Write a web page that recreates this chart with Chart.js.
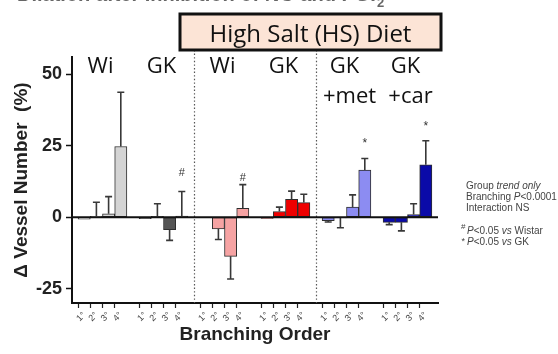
<!DOCTYPE html>
<html>
<head>
<meta charset="utf-8">
<script src="https://cdn.jsdelivr.net/npm/chart.js@4/dist/chart.umd.min.js"></script>
<style>
  html, body { margin: 0; padding: 0; background: #ffffff; }
  #wrap { width: 558px; height: 354px; position: relative; }
</style>
</head>
<body>
<div id="wrap"><canvas id="c" width="558" height="354"></canvas></div>
<script>
// Branching-order tick labels and the six animal groups
const orderLabels = ['1°', '2°', '3°', '4°'];
const groupNames = [['Wi'], ['GK'], ['Wi'], ['GK'], ['GK', '+met'], ['GK', '+car']];
const yTicks = [-25, 0, 25, 50];

// Change in vessel number (%) per branching order, mean and SEM
const wistar      = [-0.7, 0.3, 1.2, 24.7];
const wistarErr   = [0, 4.9, 6.0, 19.0];
const gk          = [-0.5, 0.3, -4.4, 0.4];
const gkErr       = [0, 4.4, 3.7, 8.6];
const wistarHS    = [0, -4.1, -13.7, 3.1];
const wistarHSErr = [0, 3.7, 7.9, 8.3];
const gkHS        = [-0.4, 2.0, 6.2, 5.1];
const gkHSErr     = [0, 1.5, 2.9, 2.9];
const gkMet       = [-1.2, -0.3, 3.5, 16.5];
const gkMetErr    = [0.5, 3.4, 4.3, 4.0];
const gkCar       = [-1.8, -1.8, 0.9, 18.3];
const gkCarErr    = [0.8, 3.0, 3.8, 8.4];

// Significance symbols: group index, order index, symbol
const marks = [
  [1, 3, '#'],
  [2, 3, '#'],
  [4, 3, '*'],
  [5, 3, '*']
];

const groupValues = [wistar, gk, wistarHS, gkHS, gkMet, gkCar];
const groupErrors = [wistarErr, gkErr, wistarHSErr, gkHSErr, gkMetErr, gkCarErr];
const groupColors = ['#d4d4d4', '#555555', '#f6a3a3', '#ee0000', '#8c8cf2', '#0a0aa8'];

// Flatten into one category axis with an empty slot between groups
const labels = [''];
const values = [null];
const errors = [null];
const colors = ['rgba(0,0,0,0)'];
const groupStart = [];
groupValues.forEach((vals, g) => {
  groupStart.push(labels.length);
  vals.forEach((v, k) => {
    labels.push(orderLabels[k]);
    values.push(v);
    errors.push(groupErrors[g][k]);
    colors.push(groupColors[g]);
  });
  labels.push('');
  values.push(null);
  errors.push(null);
  colors.push('rgba(0,0,0,0)');
});

const SANS = "'Liberation Sans', Arial, sans-serif";
const SLIDE = "'Open Sans', 'Noto Sans', sans-serif";
Chart.defaults.font.family = SANS;

const decorations = {
  id: 'decorations',
  afterDatasetsDraw(chart) {
    const { ctx, chartArea: area } = chart;
    const xs = chart.scales.x, ys = chart.scales.y;
    ctx.save();

    // dotted separators between diet panels
    ctx.strokeStyle = '#555';
    ctx.lineWidth = 1.2;
    ctx.setLineDash([1.4, 2.2]);
    [groupStart[2] - 1, groupStart[4] - 1].forEach(i => {
      const x = Math.round(xs.getPixelForValue(i)) + 0.5;
      ctx.beginPath();
      ctx.moveTo(x, 50);
      ctx.lineTo(x, area.bottom);
      ctx.stroke();
    });
    ctx.setLineDash([]);

    // error bars pointing away from zero
    ctx.strokeStyle = '#383838';
    ctx.lineWidth = 1.6;
    values.forEach((v, i) => {
      if (v === null || !errors[i]) return;
      const sign = v >= 0 ? 1 : -1;
      const x = xs.getPixelForValue(i);
      const y0 = ys.getPixelForValue(v);
      const y1 = ys.getPixelForValue(v + sign * errors[i]);
      ctx.beginPath();
      ctx.moveTo(x, y0);
      ctx.lineTo(x, y1);
      ctx.moveTo(x - 3.5, y1);
      ctx.lineTo(x + 3.5, y1);
      ctx.stroke();
    });

    // zero line
    const yz = ys.getPixelForValue(0);
    ctx.strokeStyle = '#111';
    ctx.lineWidth = 2;
    ctx.beginPath();
    ctx.moveTo(area.left, yz);
    ctx.lineTo(area.right, yz);
    ctx.stroke();

    // significance symbols above the error caps
    const lift = { '1,3': 18, '2,3': 7, '4,3': 17, '5,3': 16 };
    ctx.fillStyle = '#333';
    ctx.textAlign = 'center';
    ctx.textBaseline = 'middle';
    marks.forEach(([g, k, sym]) => {
      const i = groupStart[g] + k;
      const x = xs.getPixelForValue(i);
      const top = ys.getPixelForValue(values[i] + errors[i]);
      ctx.font = (sym === '#' ? '11px ' : '12px ') + SANS;
      ctx.fillText(sym, x, top - lift[g + ',' + k] + (sym === '*' ? 2 : 0));
    });

    // group names
    ctx.fillStyle = '#111';
    ctx.font = '22px ' + SLIDE;
    ctx.textBaseline = 'alphabetic';
    groupNames.forEach((lines, g) => {
      const s = groupStart[g];
      const cx = (xs.getPixelForValue(s) + xs.getPixelForValue(s + 3)) / 2 - 2;
      lines.forEach((t, j) => ctx.fillText(t, cx + (j ? 5 : 0), 72.5 + j * 30.5));
    });
    ctx.restore();
  },
  afterDraw(chart) {
    const { ctx } = chart;
    ctx.save();

    // slide heading, mostly above the visible area
    ctx.fillStyle = '#666';
    ctx.font = 'bold 20px ' + SANS;
    ctx.textAlign = 'left';
    ctx.textBaseline = 'alphabetic';
    const head = 'Dilation after Inhibition of NO and PGI';
    ctx.fillText(head, 17, 1);
    const hw = ctx.measureText(head).width;
    ctx.font = 'bold 13px ' + SANS;
    ctx.fillText('2', 17 + hw + 1, 7);

    // diet banner
    ctx.fillStyle = '#fce4d6';
    ctx.fillRect(180, 14, 261, 36);
    ctx.strokeStyle = '#111';
    ctx.lineWidth = 3;
    ctx.strokeRect(180, 14, 261, 36);
    ctx.fillStyle = '#111';
    ctx.font = '24px ' + SLIDE;
    ctx.textAlign = 'center';
    ctx.fillText('High Salt (HS) Diet', 310.5, 41.5);

    // statistics notes
    ctx.textAlign = 'left';
    ctx.fillStyle = '#444';
    const run = (x, y, parts) => {
      parts.forEach(([t, style, dy]) => {
        ctx.font = (style || '') + ' 10px ' + SANS;
        ctx.fillText(t, x, y + (dy || 0));
        x += ctx.measureText(t).width;
      });
    };
    run(466, 188.5, [['Group '], ['trend only', 'italic']]);
    run(466, 199.5, [['Branching '], ['P', 'italic'], ['<0.0001']]);
    run(466, 210.5, [['Interaction NS']]);
    ctx.font = '8px ' + SANS;
    ctx.fillText('#', 461, 229);
    run(467, 233.5, [['P', 'italic'], ['<0.05 '], ['vs', 'italic'], [' Wistar']]);
    ctx.font = '9px ' + SANS;
    ctx.fillText('*', 461.5, 243.5);
    run(467, 244.5, [['P', 'italic'], ['<0.05 '], ['vs', 'italic'], [' GK']]);
    ctx.restore();
  }
};

new Chart(document.getElementById('c'), {
  type: 'bar',
  data: {
    labels: labels,
    datasets: [{
      data: values,
      backgroundColor: colors,
      borderColor: '#2e2e2e',
      borderWidth: 1,
      borderSkipped: false,
      barPercentage: 1,
      categoryPercentage: 1
    }]
  },
  options: {
    responsive: false,
    animation: false,
    devicePixelRatio: 1,
    layout: { padding: { top: 57, right: 120, left: 0, bottom: 0 } },
    plugins: { legend: { display: false }, tooltip: { enabled: false } },
    scales: {
      x: {
        offset: false,
        grid: {
          drawOnChartArea: false,
          tickLength: 5,
          tickWidth: 1.2,
          tickColor: c => (labels[c.index] ? '#222' : 'rgba(0,0,0,0)')
        },
        border: { color: '#111', width: 2 },
        ticks: {
          autoSkip: false,
          maxRotation: 45,
          minRotation: 45,
          padding: 2,
          color: '#444',
          font: { size: 9 }
        },
        title: {
          display: true,
          text: 'Branching Order',
          color: '#222',
          font: { size: 19, weight: 'bold' },
          padding: { top: 0, bottom: 8 }
        },
        afterFit: s => { s.height = 51; }
      },
      y: {
        min: -30,
        max: 56,
        afterBuildTicks: s => { s.ticks = yTicks.map(v => ({ value: v })); },
        grid: { drawOnChartArea: false, tickLength: 6, tickWidth: 1.5, tickColor: '#111' },
        border: { color: '#111', width: 2 },
        ticks: { color: '#222', padding: 4, font: { size: 18, weight: 'bold' } },
        title: {
          display: true,
          text: 'Δ Vessel Number  (%)',
          color: '#222',
          font: { size: 19, weight: 'bold' },
          padding: { top: 10, bottom: 0 }
        },
        afterFit: s => { s.width = 72; }
      }
    }
  },
  plugins: [decorations]
});
</script>
</body>
</html>
